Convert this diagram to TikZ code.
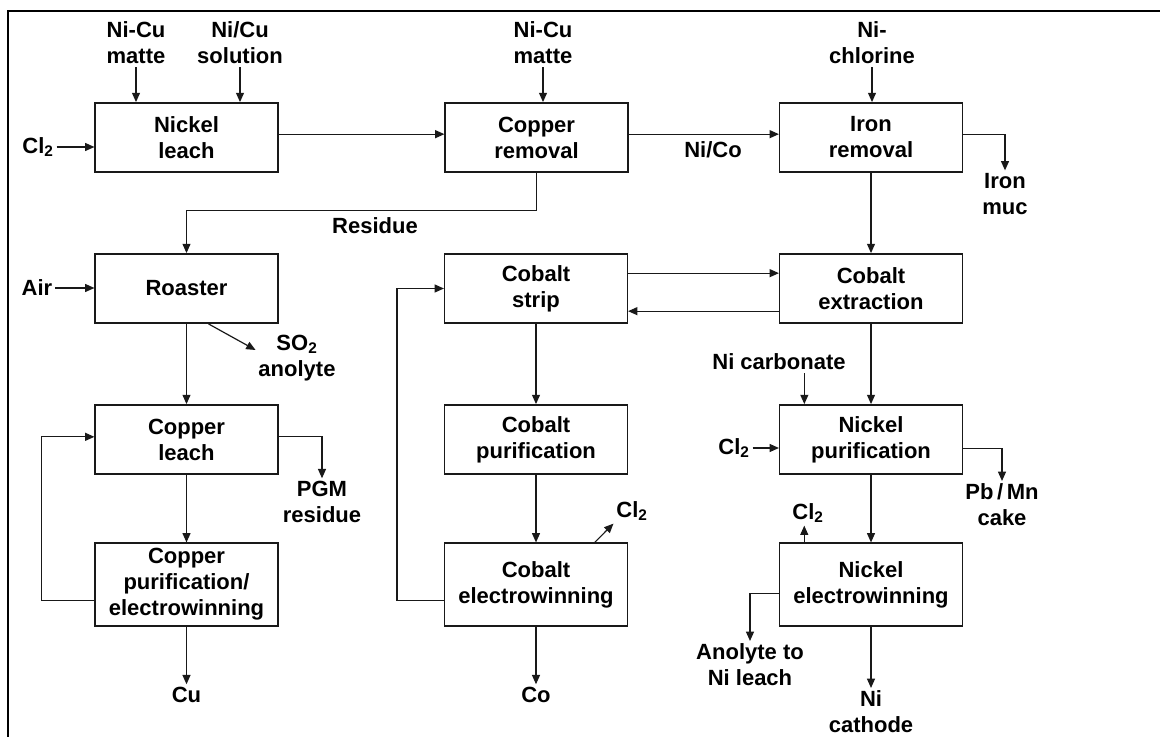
\documentclass[tikz,border=0pt]{standalone}
\usepackage{fontspec}
\setmainfont{Liberation Sans}
\usetikzlibrary{arrows.meta}
\tikzset{
	every node/.style={font=\bfseries\fontsize{16.5}{19.5}\selectfont},
	unitbox/.style={draw=black!90,line width=1.1pt,fill=white,minimum width=137pt,
		minimum height=52pt,align=center,inner sep=2pt},
	tallbox/.style={unitbox,minimum height=62pt},
	flow/.style={draw=black!90,line width=0.9pt,-{Triangle[length=7pt,width=6pt]}},
	lbl/.style={align=center,inner sep=2pt},
}
\begin{document}
\begin{tikzpicture}[x=0.75pt,y=-0.75pt]
	\useasboundingbox (0,0) rectangle (1160,737);
	\draw[line width=1.5pt] (7.5,737) -- (7.5,11) -- (1160,11);
	% process units
	\node[unitbox] (nleach) at (186.5,137.5) {Nickel\\leach};
	\node[unitbox] (curem) at (536.5,137.5) {Copper\\removal};
	\node[unitbox] (ferem) at (871,137.5) {Iron\\removal};
	\node[unitbox] (roaster) at (186.5,288.5) {Roaster};
	\node[unitbox] (costrip) at (536,288.5) {Cobalt\\strip};
	\node[unitbox] (coext) at (871,288.5) {Cobalt\\extraction};
	\node[unitbox] (culeach) at (186.5,439.5) {Copper\\leach};
	\node[unitbox] (copur) at (536,439.5) {Cobalt\\purification};
	\node[unitbox] (nipur) at (871,439.5) {Nickel\\purification};
	\node[tallbox] (cuew) at (186.5,584.5) {Copper\\purification/\\electrowinning};
	\node[tallbox] (coew) at (536,584.5) {Cobalt\\electrowinning};
	\node[tallbox] (niew) at (871,584.5) {Nickel\\electrowinning};
	% feeds and products
	\node[lbl] (matteA) at (136,43) {Ni-Cu\\matte};
	\node[lbl] (nicusol) at (240,43) {Ni/Cu\\solution};
	\node[lbl] (matteB) at (543,43) {Ni-Cu\\matte};
	\node[lbl] (nichl) at (872,43) {Ni-\\chlorine};
	\node[lbl] (clA) at (38,147) {Cl\textsubscript{2}};
	\node[lbl] (nico) at (713,150) {Ni/Co};
	\node[lbl] (ironmuc) at (1005,194) {Iron\\muc};
	\node[lbl] (residue) at (375,226) {Residue};
	\node[lbl] (air) at (37,288) {Air};
	\node[lbl] (so2) at (297,358) {SO\textsubscript{2}\\anolyte};
	\node[lbl] (nicarb) at (779,362) {Ni carbonate};
	\node[lbl] (clC) at (734,448) {Cl\textsubscript{2}};
	\node[lbl] (pgm) at (322,502) {PGM\\residue};
	\node[lbl] (pbmn) at (1002,505) {Pb\,/\,Mn\\cake};
	\node[lbl] (clB) at (632,511) {Cl\textsubscript{2}};
	\node[lbl] (clD) at (808,513) {Cl\textsubscript{2}};
	\node[lbl] (anolyte) at (750,665) {Anolyte to\\Ni leach};
	\node[lbl] (cu) at (186.5,695) {Cu};
	\node[lbl] (co) at (536,695) {Co};
	\node[lbl] (nicath) at (871,712) {Ni\\cathode};
	% top row
	\draw[flow] (matteA.south) -- (matteA.south |- nleach.north);
	\draw[flow] (nicusol.south) -- (nicusol.south |- nleach.north);
	\draw[flow] (matteB.south) -- (matteB.south |- curem.north);
	\draw[flow] (nichl.south) -- (nichl.south |- ferem.north);
	\draw[flow] (clA.east) -- (clA.east -| nleach.west);
	\draw[flow] ([yshift=2.5pt]nleach.east) -- ([yshift=2.5pt]curem.west);
	\draw[flow] ([yshift=2.5pt]curem.east) -- ([yshift=2.5pt]ferem.west);
	\draw[flow] ([yshift=2.5pt]ferem.east) -| (ironmuc.north);
	\draw[flow] (curem.south) -- ++(0,38) -| (roaster.north);
	\draw[flow] (ferem.south) -- (coext.north);
	% copper line
	\draw[flow] (air.east) -- (air.east -| roaster.west);
	\draw[flow] ([xshift=16.5pt]roaster.south) -- ([yshift=6pt]so2.west);
	\draw[flow] (roaster.south) -- (culeach.north);
	\draw[flow] ([yshift=2pt]culeach.east) -| (pgm.north);
	\draw[flow] (culeach.south) -- (cuew.north);
	\draw[flow] (cuew.south) -- (cu.north);
	\draw[flow] ([yshift=-12pt]cuew.west) -- ++(-53,0) |- ([yshift=2pt]culeach.west);
	% cobalt line
	\draw[flow] ([yshift=11.5pt]costrip.east) -- ([yshift=11.5pt]coext.west);
	\draw[flow] ([yshift=-17pt]coext.west) -- ([yshift=-17pt]costrip.east);
	\draw[flow] (costrip.south) -- (copur.north);
	\draw[flow] (copur.south) -- (coew.north);
	\draw[flow] (coew.south) -- (co.north);
	\draw[flow] ([xshift=44pt]coew.north) -- (clB.south west);
	\draw[flow] ([yshift=-12pt]coew.west) -- ++(-47,0) |- (costrip.west);
	% nickel line
	\draw[flow] (coext.south) -- (nipur.north);
	\draw[flow] ([xshift=19pt]nicarb.south) -- ([xshift=19pt]nicarb.south |- nipur.north);
	\draw[flow] (clC.east) -- (clC.east -| nipur.west);
	\draw[flow] ([yshift=-7pt]nipur.east) -| (pbmn.north);
	\draw[flow] (nipur.south) -- (niew.north);
	\draw[flow] ([xshift=19pt]niew.north west) -- ([xshift=19pt]niew.north west |- clD.south);
	\draw[flow] ([yshift=-7pt]niew.west) -| (anolyte.north);
	\draw[flow] (niew.south) -- (nicath.north);
\end{tikzpicture}
\end{document}
